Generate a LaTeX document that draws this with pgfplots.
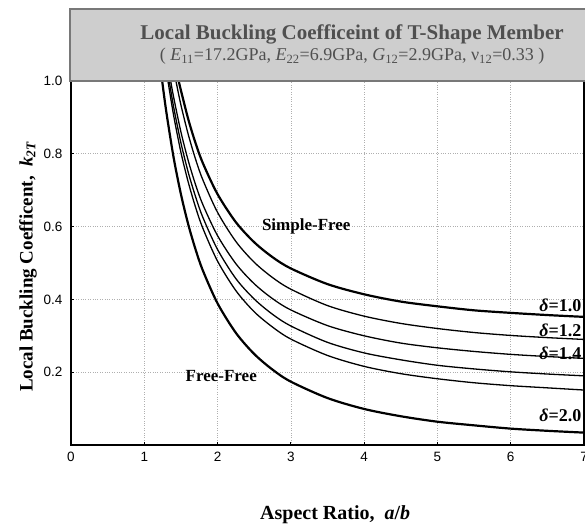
\documentclass[border=0pt]{standalone}
\usepackage{pgfplots}
\pgfplotsset{compat=1.18}
\usepackage{fontspec}
\setmainfont{Liberation Serif}
\setsansfont{Liberation Sans}
\definecolor{boxgray}{RGB}{206,206,206}
\definecolor{boxedge}{RGB}{120,120,120}
\definecolor{titlegray}{RGB}{80,80,80}
\definecolor{gridgray}{RGB}{175,175,175}
\begin{document}
\begin{tikzpicture}
\begin{axis}[
  scale only axis, width=513pt, height=364pt,
  xmin=0, xmax=7, ymin=0, ymax=1.0,
  xtick={0,1,...,7}, ytick={0.2,0.4,0.6,0.8,1.0},
  yticklabel style={/pgf/number format/fixed, /pgf/number format/fixed zerofill, /pgf/number format/precision=1},
  /pgf/number format/assume math mode=true,
  ticklabel style={font=\sffamily\fontsize{13.5}{15}\selectfont},
  xtick pos=bottom, ytick pos=left,
  tick align=inside, major tick length=3pt,
  tick style={black, line width=0.8pt},
  grid=major, grid style={gridgray, dotted, line width=0.6pt},
  axis line style={black, line width=1.2pt},
  xticklabel style={yshift=-4pt},
  yticklabel style={xshift=-5pt},
  clip=false,
]
% delta = 1.0 (Simple-Free)
\addplot[black, line width=2.2pt, smooth] coordinates {
(1.47,1.0) (1.5,0.974) (1.6,0.895) (1.7,0.829) (1.8,0.774) (2.0,0.689) (2.25,0.612) (2.5,0.557) (2.75,0.516) (3,0.485) (3.5,0.442) (4,0.414) (4.5,0.394) (5,0.381) (5.5,0.370) (6,0.363) (6.5,0.357) (7,0.352)};
% delta = 1.2
\addplot[black, line width=1.3pt, smooth] coordinates {
(1.432,1.0) (1.5,0.934) (1.6,0.853) (1.7,0.785) (1.8,0.728) (2.0,0.639) (2.25,0.559) (2.5,0.502) (2.75,0.460) (3,0.428) (3.5,0.383) (4,0.354) (4.5,0.334) (5,0.320) (5.5,0.309) (6,0.301) (6.5,0.295) (7,0.290)};
% delta = 1.4
\addplot[black, line width=1.3pt, smooth] coordinates {
(1.36,1.0) (1.4,0.956) (1.5,0.860) (1.6,0.781) (1.7,0.715) (1.8,0.660) (2.0,0.575) (2.25,0.498) (2.5,0.443) (2.75,0.402) (3,0.371) (3.5,0.328) (4,0.300) (4.5,0.280) (5,0.267) (5.5,0.257) (6,0.249) (6.5,0.243) (7,0.238)};
% delta = 1.6
\addplot[black, line width=1.3pt, smooth] coordinates {
(1.34,1.0) (1.4,0.929) (1.5,0.830) (1.6,0.749) (1.7,0.682) (1.8,0.625) (2.0,0.537) (2.25,0.457) (2.5,0.401) (2.75,0.359) (3,0.327) (3.5,0.282) (4,0.253) (4.5,0.234) (5,0.219) (5.5,0.209) (6,0.201) (6.5,0.195) (7,0.190)};
% delta = 1.8
\addplot[black, line width=1.3pt, smooth] coordinates {
(1.323,1.0) (1.4,0.906) (1.5,0.804) (1.6,0.722) (1.7,0.653) (1.8,0.595) (2.0,0.505) (2.25,0.424) (2.5,0.366) (2.75,0.324) (3,0.291) (3.5,0.246) (4,0.216) (4.5,0.196) (5,0.182) (5.5,0.171) (6,0.163) (6.5,0.157) (7,0.151)};
% delta = 2.0 (Free-Free)
\addplot[black, line width=2.2pt, smooth] coordinates {
(1.244,1.0) (1.3,0.916) (1.4,0.790) (1.5,0.689) (1.6,0.606) (1.7,0.537) (1.8,0.479) (2.0,0.389) (2.25,0.308) (2.5,0.250) (2.75,0.207) (3,0.174) (3.5,0.129) (4,0.099) (4.5,0.079) (5,0.064) (5.5,0.054) (6,0.045) (6.5,0.039) (7,0.034)};
% labels
\node[font=\bfseries\fontsize{17}{19}\selectfont] at (axis cs:3.21,0.60) {Simple-Free};
\node[font=\bfseries\fontsize{17}{19}\selectfont] at (axis cs:2.05,0.19) {Free-Free};
\node[font=\bfseries\fontsize{18}{20}\selectfont, anchor=east, inner sep=1pt] at (axis cs:6.98,0.385) {\textit{δ}=1.0};
\node[font=\bfseries\fontsize{18}{20}\selectfont, anchor=east, inner sep=1pt] at (axis cs:6.98,0.316) {\textit{δ}=1.2};
\node[font=\bfseries\fontsize{18}{20}\selectfont, anchor=east, inner sep=1pt] at (axis cs:6.98,0.253) {\textit{δ}=1.4};
\node[font=\bfseries\fontsize{18}{20}\selectfont, anchor=east, inner sep=1pt] at (axis cs:6.98,0.082) {\textit{δ}=2.0};
% title box
\draw[boxedge, fill=boxgray, line width=1.5pt] (rel axis cs:-0.002,1) rectangle (rel axis cs:1.01,1.198);
\node[titlegray, font=\bfseries\fontsize{21}{24}\selectfont] at (rel axis cs:0.548,1.127) {Local Buckling Coefficeint of T-Shape Member};
\node[titlegray, font=\fontsize{18}{21}\selectfont] at (rel axis cs:0.548,1.068) {( \textit{E}\textsubscript{11}=17.2GPa, \textit{E}\textsubscript{22}=6.9GPa, \textit{G}\textsubscript{12}=2.9GPa, ν\textsubscript{12}=0.33 )};
% axis labels
\node[font=\bfseries\fontsize{19}{22}\selectfont, rotate=90] at (rel axis cs:-0.084,0.49) {Local Buckling Coefficent,\ \ \textit{k}\textsubscript{\textit{2T}}};
\node[font=\bfseries\fontsize{20}{23}\selectfont] at (rel axis cs:0.515,-0.192) {Aspect Ratio,\ \ \textit{a}/\textit{b}};
\end{axis}
\pgfresetboundingbox
\path[use as bounding box] (-71pt,-79pt) rectangle (514pt,445pt);
\end{tikzpicture}
\end{document}
